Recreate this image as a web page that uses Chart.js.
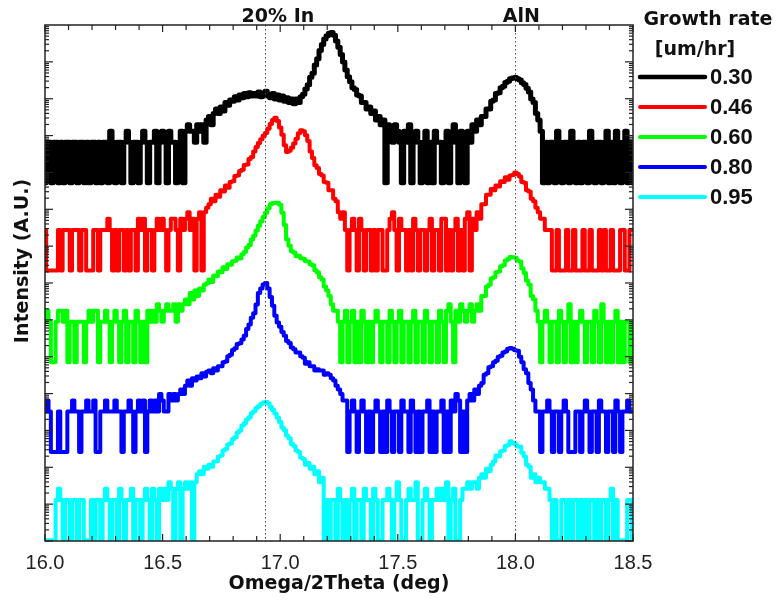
<!DOCTYPE html>
<html>
<head>
<meta charset="utf-8">
<title>Omega/2Theta scans</title>
<script src="https://cdn.jsdelivr.net/npm/chart.js@4.4.1/dist/chart.umd.min.js"></script>
<style>
  body { margin: 0; background: #fff; }
  canvas { display: block; }
</style>
</head>
<body>
<canvas id="scan" width="778" height="605"></canvas>
<script>
// omega/2theta scans, 16.00 .. 18.50 deg in 0.01 deg steps
const scanStart = 16.0;
const scanStep = 0.01;

const growthRates = ['0.30', '0.46', '0.60', '0.80', '0.95'];
const lineColors = ['#000000', '#ff0000', '#00ff00', '#0000ff', '#00ffff'];
// each scan is shifted up the log axis by this factor so they don't overlap
const stackFactors = [6.6e9, 2.75e7, 8.9e4, 324, 1.3];
// zero-count points are drawn at this level (log axis)
const zeroLevel = 0.08;

const peakAngles = [16.935, 18.0];
const peakNames = ['20% In', 'AlN'];

// detector counts, one row per 0.1 deg
const counts030 = [
  0,1,1,0,1,1,0,1,0,1,
  1,0,1,1,0,1,1,0,1,0,
  1,1,0,1,0,1,1,0,2,1,
  0,1,1,0,1,2,1,0,1,1,
  0,1,2,1,0,1,1,2,0,1,
  2,1,0,2,1,1,0,1,2,0,
  2,3,2,2,1,3,2,3,1,4,
  5,3,6,8,6,9,7,12,10,14,
  13,17,14,19,16,21,17,22,18,21,
  18,23,17,21,24,18,16,21,15,19,
  14,18,13,16,12,15,11,15,12,17,
  20,28,36,58,74,125,185,310,450,630,
  780,900,950,800,560,380,240,150,91,60,
  44,30,27,19,18,12,12,8,9,6,
  7,4,5,3,4,0,3,2,1,3,
  2,1,0,2,1,3,0,1,2,1,
  0,1,2,0,1,0,2,1,1,0,
  1,2,0,1,3,1,0,2,1,0,
  2,1,3,2,4,3,5,5,8,8,
  13,14,21,22,30,33,42,45,53,55,
  57,53,49,41,37,29,23,15,12,6,
  4,2,0,1,0,1,1,0,2,1,
  0,1,1,0,2,1,0,1,0,1,
  1,0,2,1,0,1,1,0,1,2,
  0,1,0,2,1,0,1,2,0,1,
  0
];
const counts046 = [
  1,0,0,0,0,0,1,0,1,1,
  1,0,1,1,1,0,1,1,0,0,
  0,1,1,0,1,1,1,2,1,0,
  1,0,1,1,0,1,0,1,1,0,
  2,1,2,0,1,1,0,1,2,1,
  2,1,0,1,2,2,1,0,2,1,
  2,3,1,2,0,2,3,0,3,4,
  5,7,6,9,8,12,11,16,14,20,
  21,29,30,40,43,58,60,84,95,135,
  178,230,290,360,430,560,750,955,1100,900,
  600,380,200,130,140,170,220,300,420,510,
  480,370,260,135,90,57,48,33,30,20,
  19,12,12,7,6,3,2,3,1,0,
  1,2,1,0,2,1,0,1,1,0,
  1,0,1,1,0,0,1,2,3,1,
  0,2,1,1,0,1,0,2,1,0,
  1,1,0,1,2,0,1,1,0,2,
  2,0,1,0,1,2,0,1,0,2,
  3,0,2,1,3,2,5,5,9,9,
  13,12,16,15,21,20,27,23,30,31,
  36,33,28,20,19,12,11,7,6,4,
  3,2,2,1,1,1,0,0,1,0,
  0,0,1,0,0,1,0,0,0,1,
  0,0,1,0,0,0,1,0,1,0,
  0,1,0,0,0,1,1,0,0,1,
  1
];
const counts060 = [
  1,2,1,0,0,1,2,2,1,2,
  0,1,1,0,1,1,1,0,1,2,
  1,2,2,0,1,1,2,1,0,1,
  2,1,0,1,2,0,1,1,0,2,
  1,0,1,0,2,1,2,1,3,2,
  1,2,3,2,2,3,1,3,2,3,
  4,3,6,4,7,5,8,7,10,11,
  14,12,18,17,23,22,30,27,36,35,
  44,45,55,52,68,78,104,120,170,215,
  300,400,530,690,900,1200,1550,1660,1700,1700,
  1500,900,420,170,115,82,75,60,62,53,
  51,44,43,36,34,25,22,16,14,9,
  7,5,3,2,2,1,0,1,2,0,
  1,2,0,1,0,2,1,0,1,0,
  1,2,1,0,1,1,0,2,1,0,
  1,2,0,1,1,0,1,2,0,1,
  1,0,2,1,0,1,1,0,2,1,
  0,2,3,1,0,2,1,3,2,1,
  2,3,1,2,3,2,5,5,9,10,
  15,16,22,23,32,34,46,50,57,56,
  54,46,43,28,21,13,10,5,4,2,
  1,0,1,2,1,0,1,1,0,2,
  1,0,1,3,0,1,0,1,2,1,
  0,1,1,0,2,1,0,3,1,0,
  1,0,1,2,0,1,0,1,1,0,
  1
];
const counts080 = [
  1,2,1,0,0,0,1,0,0,0,
  1,1,2,1,1,0,1,1,2,1,
  1,2,0,0,1,1,2,1,1,1,
  2,1,1,0,1,1,2,1,0,1,
  2,1,2,0,1,2,1,2,1,3,
  2,1,1,3,2,3,2,3,4,3,
  5,7,5,8,7,9,8,11,9,12,
  13,11,15,13,17,17,22,23,32,35,
  47,52,68,72,90,115,175,230,350,470,
  800,1660,2200,2800,3100,2200,1290,750,400,260,
  200,145,115,83,73,55,49,40,40,32,
  29,20,22,17,17,13,14,13,13,10,
  11,10,8,7,5,4,3,2,2,0,
  1,2,1,0,1,2,1,0,1,0,
  1,2,1,0,1,0,2,1,0,1,
  1,0,2,1,1,0,2,1,0,1,
  0,1,1,2,0,1,0,1,1,2,
  0,1,0,2,1,3,2,0,1,0,
  2,3,2,4,3,5,6,10,11,16,
  17,22,24,31,33,40,43,51,53,51,
  46,45,31,22,14,11,6,4,2,1,
  1,0,1,1,2,1,0,1,1,0,
  1,2,1,0,0,0,1,1,0,1,
  2,1,0,1,1,0,2,1,1,0,
  1,1,0,2,1,0,1,1,2,1,
  1
];
const counts095 = [
  0,0,0,0,0,1,2,1,0,1,
  1,0,1,1,0,1,1,0,0,0,
  1,0,1,1,0,1,2,1,0,1,
  1,0,2,1,0,1,1,2,0,1,
  1,0,1,2,1,0,2,1,0,2,
  1,2,1,3,2,0,2,3,0,2,
  3,2,3,0,3,5,6,5,8,7,
  9,8,11,11,15,16,22,24,32,34,
  45,50,68,77,105,120,152,175,225,255,
  310,350,400,440,460,420,330,275,220,170,
  130,92,78,55,47,33,29,22,20,14,
  13,9,10,7,8,5,6,3,4,0,
  1,0,1,1,0,2,1,0,1,0,
  1,2,0,1,1,0,2,1,1,0,
  2,1,0,0,1,1,2,1,0,1,
  3,1,0,0,1,2,1,1,3,0,
  0,1,2,1,0,1,1,2,1,2,
  1,3,0,1,2,0,0,1,2,2,
  3,2,3,3,2,4,5,4,7,6,
  9,11,16,15,21,22,29,31,39,35,
  33,28,28,19,15,9,8,4,5,3,
  4,3,3,2,2,1,0,1,0,0,
  1,1,0,1,0,1,1,0,1,0,
  1,0,1,1,0,1,0,1,1,0,
  1,2,0,1,0,0,0,0,1,1,
  0
];

const scans = [counts030, counts046, counts060, counts080, counts095];

const datasets = scans.map((c, s) => ({
  label: growthRates[s],
  data: c.map((n, i) => ({ x: scanStart + i * scanStep, y: (n || zeroLevel) * stackFactors[s] })),
  borderColor: lineColors[s],
  borderWidth: s === 0 ? 5 : 4,
  borderJoinStyle: 'round',
  borderCapStyle: 'round',
  stepped: 'middle',
  pointRadius: 0
}));

const boldText = 'bold 19px "DejaVu Sans"';

// frame, inward ticks, dotted peak markers, labels and legend
const scanDecor = {
  id: 'scanDecor',
  afterDatasetsDraw(chart) {
    const { ctx, chartArea: a, scales: { x, y } } = chart;
    ctx.save();

    ctx.strokeStyle = '#444';
    ctx.lineWidth = 1;
    ctx.setLineDash([1.5, 2.5]);
    peakAngles.forEach(v => {
      const px = Math.round(x.getPixelForValue(v)) + 0.5;
      ctx.beginPath();
      ctx.moveTo(px, a.top);
      ctx.lineTo(px, a.bottom);
      ctx.stroke();
    });
    ctx.setLineDash([]);

    ctx.strokeStyle = '#222';
    ctx.lineWidth = 1.5;
    ctx.strokeRect(a.left, a.top, a.right - a.left, a.bottom - a.top);

    ctx.lineWidth = 1.2;
    const tick = (x0, y0, x1, y1) => {
      ctx.beginPath();
      ctx.moveTo(x0, y0);
      ctx.lineTo(x1, y1);
      ctx.stroke();
    };
    // x: minor every 0.1, major every 0.5
    for (let i = 0; i <= 25; i++) {
      const px = x.getPixelForValue(x.min + i * 0.1);
      const len = i % 5 === 0 ? 7 : 5;
      tick(px, a.bottom, px, a.bottom - len);
      tick(px, a.top, px, a.top + len);
    }
    // y: log decades with 2..9 minor ticks, both sides
    const lo = Math.round(Math.log10(y.min));
    const hi = Math.round(Math.log10(y.max));
    for (let k = lo; k < hi; k++) {
      for (let m = 1; m <= 9; m++) {
        const py = y.getPixelForValue(m * Math.pow(10, k));
        const len = m === 1 ? 8 : 4;
        tick(a.left, py, a.left + len, py);
        tick(a.right, py, a.right - len, py);
      }
    }
    ctx.restore();
  },
  afterDraw(chart) {
    const { ctx, chartArea: a, scales: { x } } = chart;
    ctx.save();
    ctx.fillStyle = '#111';
    ctx.font = boldText;
    ctx.textAlign = 'center';
    ctx.textBaseline = 'alphabetic';
    const shift = [13, 6];
    peakNames.forEach((name, i) => {
      ctx.fillText(name, x.getPixelForValue(peakAngles[i]) + shift[i], 21.5);
    });

    // y axis title
    ctx.save();
    ctx.translate(23.5, 261);
    ctx.rotate(-Math.PI / 2);
    ctx.textBaseline = 'middle';
    ctx.fillText('Intensity (A.U.)', 0, 0);
    ctx.restore();

    // legend
    const lx = a.right + 7;
    ctx.fillText('Growth rate', lx + 68, 25);
    ctx.fillText('[um/hr]', lx + 55, 55);
    ctx.textAlign = 'left';
    ctx.textBaseline = 'middle';
    ctx.font = 'bold 22px "Liberation Sans"';
    chart.data.datasets.forEach((ds, i) => {
      const ly = 77 + i * 30;
      ctx.strokeStyle = ds.borderColor;
      ctx.lineWidth = i === 0 ? 4.5 : 4;
      ctx.lineCap = 'round';
      ctx.beginPath();
      ctx.moveTo(lx, ly);
      ctx.lineTo(lx + 65, ly);
      ctx.stroke();
      ctx.fillText(ds.label, lx + 70, ly + 1);
    });
    ctx.restore();
  }
};

new Chart(document.getElementById('scan'), {
  type: 'line',
  data: { datasets: datasets },
  options: {
    responsive: false,
    animation: false,
    events: [],
    layout: { padding: { top: 25, right: 145, left: 0, bottom: 0 } },
    plugins: { legend: { display: false }, tooltip: { enabled: false } },
    scales: {
      x: {
        type: 'linear',
        min: 16,
        max: 18.5,
        grid: { display: false },
        border: { display: false },
        ticks: {
          stepSize: 0.1,
          autoSkip: false,
          maxRotation: 0,
          padding: 2,
          color: '#222',
          font: { family: '"Liberation Sans"', size: 20 },
          callback: v => Math.round(v * 10) % 5 === 0 ? v.toFixed(1) : ''
        },
        title: {
          display: true,
          text: 'Omega/2Theta (deg)',
          color: '#111',
          font: { family: '"DejaVu Sans"', size: 19, weight: 'bold' },
          padding: { top: 0, bottom: 10 }
        },
        afterFit: scale => { scale.height = 64; }
      },
      y: {
        type: 'logarithmic',
        min: 0.1,
        max: 1e13,
        grid: { display: false },
        border: { display: false },
        ticks: { display: false },
        afterFit: scale => { scale.width = 45; }
      }
    }
  },
  plugins: [scanDecor]
});
</script>
</body>
</html>
